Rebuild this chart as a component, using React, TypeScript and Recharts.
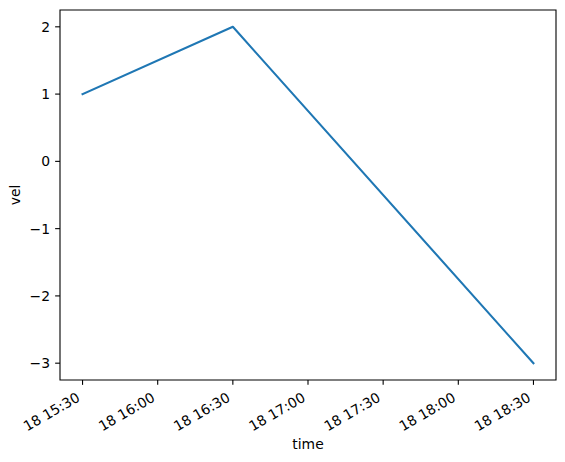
import React from 'react';
import { LineChart, Line, XAxis, YAxis, ReferenceArea, Label } from 'recharts';

const times = ['15:30', '16:30', '18:30'];
const vel = [1, 2, -3];
const xTickLabels = ['15:30', '16:00', '16:30', '17:00', '17:30', '18:00', '18:30'];
const yTicks = [-3, -2, -1, 0, 1, 2];
const dayLabel = '18';

const toMin = (s: string) => {
  const [h, m] = s.split(':').map(Number);
  return h * 60 + m;
};

const data = times.map((t, i) => ({ t: toMin(t), vel: vel[i] }));
const xTicks = xTickLabels.map(toMin);
const xMin = xTicks[0] - 9;
const xMax = xTicks[xTicks.length - 1] + 9;
const yMin = -3.25;
const yMax = 2.25;

const FONT = 'DejaVu Sans, sans-serif';
const FS = 13.9;

const fmtTime = (v: number) => {
  const h = Math.floor(v / 60);
  const m = v % 60;
  return `${dayLabel} ${String(h).padStart(2, '0')}:${String(m).padStart(2, '0')}`;
};

const XTick = (props: any) => {
  const { x, y, payload } = props;
  const ax = x - 1.7;
  const ay = y + 15.5;
  return (
    <text
      x={ax}
      y={ay}
      textAnchor="end"
      fontFamily={FONT}
      fontSize={FS}
      fill="#000"
      transform={`rotate(-30 ${ax} ${ay})`}
    >
      {fmtTime(payload.value)}
    </text>
  );
};

const YTick = (props: any) => {
  const { x, y, payload } = props;
  const v = payload.value as number;
  const s = v < 0 ? `\u2212${Math.abs(v)}` : `${v}`;
  return (
    <text x={x} y={y + 5} textAnchor="end" fontFamily={FONT} fontSize={FS} fill="#000">
      {s}
    </text>
  );
};

export default function App() {
  return (
    <div style={{ position: 'absolute', left: 0, top: 0, width: 565, height: 462, background: '#fff' }}>
      <LineChart width={565} height={462} data={data} margin={{ top: 10, right: 9, bottom: 0, left: 0 }}>
        <XAxis
          dataKey="t"
          type="number"
          domain={[xMin, xMax]}
          ticks={xTicks}
          interval={0}
          height={82}
          tickSize={4.86}
          tickMargin={0}
          axisLine={false}
          tickLine={{ stroke: '#000', strokeWidth: 1.1 }}
          tick={<XTick />}
          allowDataOverflow
        >
          <Label
            content={(p: any) => {
              const vb = p.viewBox;
              return (
                <text
                  x={vb.x + vb.width / 2}
                  y={vb.y + vb.height - 13}
                  textAnchor="middle"
                  fontFamily={FONT}
                  fontSize={FS}
                  fill="#000"
                >
                  time
                </text>
              );
            }}
          />
        </XAxis>
        <YAxis
          type="number"
          domain={[yMin, yMax]}
          ticks={yTicks}
          interval={0}
          width={60}
          tickSize={4.86}
          tickMargin={5.1}
          axisLine={false}
          tickLine={{ stroke: '#000', strokeWidth: 1.1 }}
          tick={<YTick />}
          allowDataOverflow
        >
          <Label
            content={(p: any) => {
              const vb = p.viewBox;
              const lx = vb.x + 20;
              const ly = vb.y + vb.height / 2;
              return (
                <text
                  x={lx}
                  y={ly}
                  textAnchor="middle"
                  fontFamily={FONT}
                  fontSize={FS}
                  fill="#000"
                  transform={`rotate(-90 ${lx} ${ly})`}
                >
                  vel
                </text>
              );
            }}
          />
        </YAxis>
        <ReferenceArea
          x1={xMin}
          x2={xMax}
          y1={yMin}
          y2={yMax}
          fill="none"
          fillOpacity={0}
          stroke="#000"
          strokeWidth={1.1}
          strokeOpacity={1}
          ifOverflow="visible"
        />
        <Line
          type="linear"
          dataKey="vel"
          stroke="#1f77b4"
          strokeWidth={2.08}
          strokeLinejoin="round"
          strokeLinecap="square"
          dot={false}
          activeDot={false}
          isAnimationActive={false}
        />
      </LineChart>
    </div>
  );
}
